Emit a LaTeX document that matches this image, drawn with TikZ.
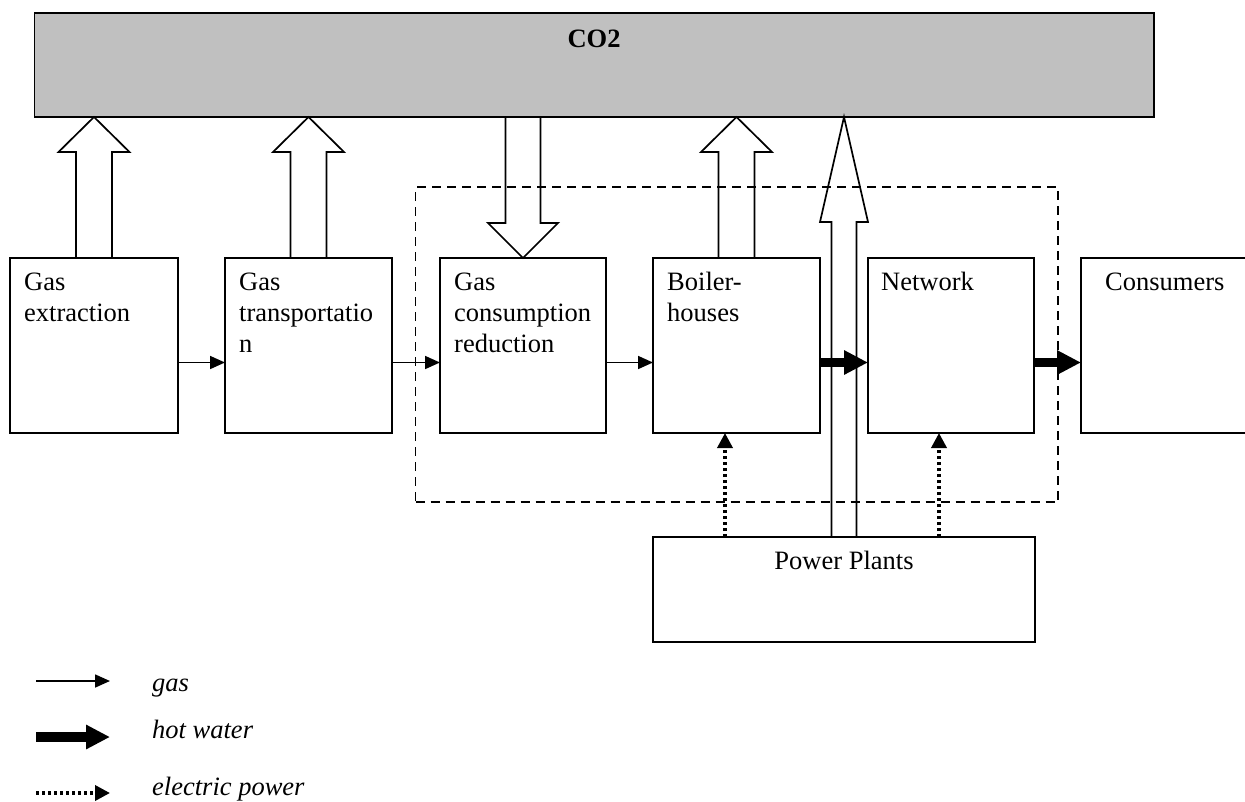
\documentclass[tikz,border=0pt]{standalone}
\usepackage{fontspec}
\setmainfont{Liberation Serif}
\usetikzlibrary{arrows.meta,calc}
\newcommand\myhollow[5]{%
  \draw[outline] let \p1=(#1), \p2=(#2), \n1={ifthenelse(\y2>\y1,1,-1)} in
   (\x1-#3pt,\y1) -- (\x2-#3pt,\y2-\n1*#5pt) -- (\x2-#4pt,\y2-\n1*#5pt) -- (\x2,\y2)
   -- (\x2+#4pt,\y2-\n1*#5pt) -- (\x2+#3pt,\y2-\n1*#5pt) -- (\x1+#3pt,\y1) -- cycle;}
\begin{document}
\begin{tikzpicture}[x=1pt,y=-1pt,
  box/.style={draw, line width=1.7pt, inner sep=0pt, outer sep=0pt, minimum width=#1, minimum height=175pt},
  txt/.style={font=\fontsize{26.5}{31}\selectfont, align=left, inner sep=0pt, anchor=base west},
  legtxt/.style={font=\fontsize{26.5}{31}\selectfont\itshape, inner sep=0pt, anchor=base west},
  outline/.style={line width=1.7pt},
  gasflow/.style={line width=1.7pt, -{Triangle[length=15pt,width=13pt]}},
  hotflow/.style={line width=9pt, -{Triangle[length=24pt,width=23pt]}},
  elflow/.style={line width=3.5pt, dash pattern=on 3pt off 3pt, -{Triangle[length=15pt,width=15pt]}},
  group/.style={draw, line width=1.5pt, dash pattern=on 9pt off 6pt, inner sep=0pt, outer sep=0pt}]
\useasboundingbox (0,0) rectangle (1245,801);

% CO2 box
\node[draw, line width=1.7pt, fill={rgb,255:red,192;green,192;blue,192}, inner sep=0pt, outer sep=0pt,
      minimum width=1119.5pt, minimum height=104pt] (co2) at (594.25,65) {};
\node[font=\fontsize{26.5}{31}\selectfont\bfseries, inner sep=0pt, anchor=base] (co2t) at (594,47) {CO2};

% process boxes
\node[box=168pt] (ge)  at (94,345.5) {};
\node[box=167pt] (gt)  at (308.5,345.5) {};
\node[box=166pt] (gcr) at (523,345.5) {};
\node[box=167pt] (bh)  at (736.5,345.5) {};
\node[box=166pt] (nw)  at (951,345.5) {};
\node[box=169pt] (cs)  at (1165.5,345.5) {};
\node[draw, line width=1.7pt, inner sep=0pt, outer sep=0pt, minimum width=382pt, minimum height=105pt] (pp) at (844,589.5) {};

% box texts (base anchor = baseline of last line)
\node[txt] (tge)  at (24,321)  {Gas\\extraction};
\node[txt] (tgt)  at (239,352) {Gas\\transportatio\\n};
\node[txt] (tgcr) at (454,352) {Gas\\consumption\\reduction};
\node[txt] (tbh)  at (667,321) {Boiler-\\houses};
\node[txt] (tnw)  at (881,290) {Network};
\node[txt] (tcs)  at (1105,290) {Consumers};
\node[txt, anchor=base] (tpp) at (844,569) {Power Plants};

% hollow CO2 arrows
\coordinate (a1t) at (ge.north |- co2.south);
\coordinate (a2t) at (gt.north |- co2.south);
\coordinate (a3s) at (gcr.north |- co2.south);
\coordinate (a4t) at (bh.north |- co2.south);
\coordinate (a5t) at (pp.north |- co2.south);
\myhollow{ge.north}{a1t}{18}{35.5}{35}
\myhollow{gt.north}{a2t}{18}{35.5}{35}
\myhollow{a3s}{gcr.north}{17.5}{35}{35}
\myhollow{bh.north}{a4t}{18}{35.5}{35}
\myhollow{pp.north}{a5t}{12.5}{24}{105}

% flows
\coordinate (fy) at (0,362.5);
\draw[gasflow] (ge.east |- fy) -- (gt.west |- fy);
\draw[gasflow] (gt.east |- fy) -- (gcr.west |- fy);
\draw[gasflow] (gcr.east |- fy) -- (bh.west |- fy);
\draw[hotflow] (bh.east |- fy) -- (nw.west |- fy);
\draw[hotflow] (nw.east |- fy) -- (cs.west |- fy);

\coordinate (e1) at ($(bh.south)+(-11.5,0)$);
\coordinate (e2) at ($(nw.south)+(-12,0)$);
\draw[elflow] (e1 |- pp.north) -- (e1);
\draw[elflow] (e2 |- pp.north) -- (e2);

% dashed group
\node[group, minimum width=642.5pt, minimum height=315pt] (grp) at (736.75,344.5) {};

% legend
\coordinate (l1s) at (36,681);  \coordinate (l1e) at (110,681);
\coordinate (l2s) at (36,737);  \coordinate (l2e) at (110,737);
\coordinate (l3s) at (36,793);  \coordinate (l3e) at (110,793);
\draw[gasflow] (l1s) -- (l1e);
\draw[hotflow, line width=10pt] (l2s) -- (l2e);
\draw[elflow] (l3s) -- (l3e);
\node[legtxt] (lt1) at (152,691) {gas};
\node[legtxt] (lt2) at (152,738) {hot water};
\node[legtxt] (lt3) at (152,795) {electric power};
\end{tikzpicture}
\end{document}
